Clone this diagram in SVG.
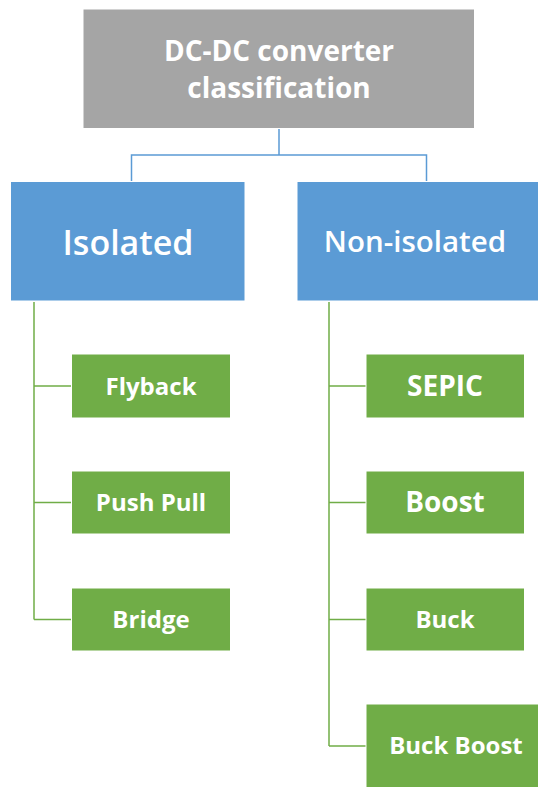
<svg xmlns="http://www.w3.org/2000/svg" width="538" height="787" viewBox="0 0 538 787">
<style>
text{font-family:"Open Sans","Liberation Sans",sans-serif;fill:#fff;text-anchor:middle;}
.top{fill:#a5a5a5;stroke:#fff;stroke-width:1}
.mid{fill:#5b9bd5;stroke:#fff;stroke-width:1}
.leaf{fill:#70ad47;stroke:#fff;stroke-width:1}
.t1{font-size:28px;font-weight:700}
.t2{font-weight:600}
.t3{font-size:24px;font-weight:700}
.t4{font-size:28px;font-weight:700}
.cb{fill:none;stroke:#5b9bd5;stroke-width:1.5}
.cg{fill:none;stroke:#70ad47;stroke-width:1.5}
</style>
<rect width="538" height="787" fill="#fff"/>
<g id="connectors">
<path class="cb" d="M279 129V155M131.5 181V155H426.5V181"/>
<path class="cg" d="M34 302V619.5M34 386H71.5M34 502.5H71.5M34 619.5H71.5"/>
<path class="cg" d="M329 302V746M329 386H366M329 502.5H366M329 619.5H366M329 746H366"/>
</g>
<g id="root"><rect class="top" x="83" y="9" width="391.5" height="119.5"/><text class="t1" x="279" y="61">DC-DC converter</text><text class="t1" x="279" y="97.5">classification</text></g>
<g id="isolated"><rect class="mid" x="10.5" y="181.5" width="234.5" height="119.5"/><text class="t2" x="128" y="255" font-size="34">Isolated</text></g>
<g id="nonisolated"><rect class="mid" x="297" y="181.5" width="242" height="119.5"/><text class="t2" x="415" y="252" font-size="29.5">Non-isolated</text></g>
<g id="flyback"><rect class="leaf" x="71.5" y="354" width="159" height="64"/><text class="t3" x="151" y="395">Flyback</text></g>
<g id="pushpull"><rect class="leaf" x="71.5" y="471" width="159" height="63"/><text class="t3" x="151" y="511">Push Pull</text></g>
<g id="bridge"><rect class="leaf" x="71.5" y="588" width="159" height="63"/><text class="t3" x="151" y="628">Bridge</text></g>
<g id="sepic"><rect class="leaf" x="366" y="354" width="158.5" height="64"/><text class="t4" x="445" y="396">SEPIC</text></g>
<g id="boost"><rect class="leaf" x="366" y="471" width="158.5" height="63"/><text class="t4" x="445" y="512">Boost</text></g>
<g id="buck"><rect class="leaf" x="366" y="588" width="158.5" height="63"/><text class="t3" x="445" y="628">Buck</text></g>
<g id="buckboost"><rect class="leaf" x="366" y="704" width="173" height="84"/><text class="t3" x="456" y="754">Buck Boost</text></g>
</svg>
